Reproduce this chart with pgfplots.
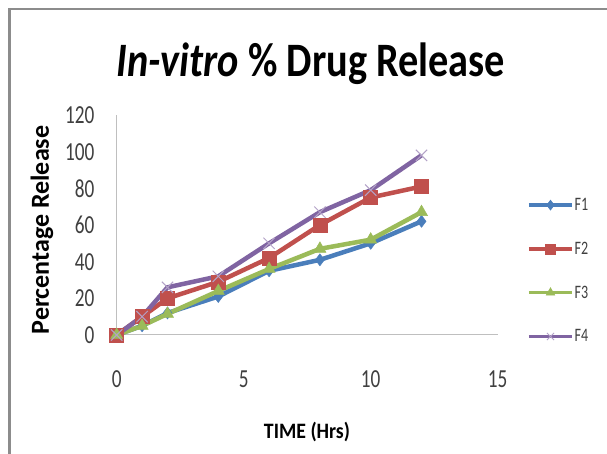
\documentclass[border=0pt]{standalone}
\usepackage{fontspec}
\setmainfont{Carlito}
\newfontfamily\cond[FakeStretch=0.74]{Carlito}
\newfontfamily\condt[FakeStretch=0.84]{Carlito}
\newfontfamily\condx[FakeStretch=0.9]{Carlito}
\usepackage{pgfplots}
\pgfplotsset{compat=1.18}
\definecolor{cF1}{HTML}{4A7EBB}
\definecolor{cF2}{HTML}{C0504D}
\definecolor{cF3}{HTML}{9BBB59}
\definecolor{cF4}{HTML}{8064A2}
\definecolor{tickc}{HTML}{404040}
\definecolor{framec}{HTML}{8C8C8C}
\begin{document}
\begin{tikzpicture}[x=1pt,y=1pt]
\useasboundingbox (0,0) rectangle (607,454);
\fill[white] (0,0) rectangle (607,454);
\draw[framec, line width=2.5pt] (9.5,-10) -- (9.5,445) -- (620,445);
\node[anchor=base, inner sep=0pt] at (311,377) {\condt\fontsize{48}{48}\selectfont\bfseries\textit{In-vitro} \% Drug Release};
\node[anchor=center, inner sep=0pt] at (307,22) {\condx\fontsize{22}{22}\selectfont\bfseries TIME (Hrs)};
\node[anchor=center, inner sep=0pt, rotate=90] at (42,224) {\fontsize{26}{26}\selectfont\bfseries Percentage Release};
\begin{axis}[
  at={(116.7pt,119pt)}, anchor=south west,
  scale only axis, width=381pt, height=220pt,
  xmin=0, xmax=15, ymin=0, ymax=120,
  xtick={0,5,10,15}, ytick={0,20,...,120},
  axis lines=left,
  axis line style={-, draw=gray!50, line width=1pt},
  tick style={draw=none},
  clip=false,
  /pgf/number format/assume math mode=true,
  ticklabel style={font=\cond\fontsize{26}{26}\selectfont, text=tickc, inner sep=0pt},
  xticklabel style={anchor=base, yshift=-50pt},
  yticklabel style={anchor=east, xshift=-20pt},
  legend style={at={(1.077,0.627)}, anchor=north west, draw=none, fill=none,
    font=\cond\fontsize{19}{19}\selectfont, row sep=28pt, inner sep=0pt,
    nodes={inner sep=1pt, text=tickc}},
  legend cell align=left,
  legend image code/.code={%
    \draw[mark repeat=2,mark phase=2,#1,line width=3.5pt, mark size=5pt] plot coordinates {(0pt,0pt) (21.5pt,0pt) (43pt,0pt)};},
]
\addplot[cF1, line width=4.5pt, mark=diamond*, mark size=6pt, mark options={solid, line width=0.5pt}]
  coordinates {(0,0) (1,5) (2,12) (4,21) (6,35) (8,41) (10,50) (12,62)};
\addlegendentry{F1}
\addplot[cF2, line width=4.5pt, mark=square*, mark size=7pt, mark options={solid, line width=0.5pt}]
  coordinates {(0,0) (1,10) (2,20) (4,29) (6,42) (8,60) (10,75) (12,81)};
\addlegendentry{F2}
\addplot[cF3, line width=4.5pt, mark=triangle*, mark size=7pt, mark options={solid, line width=0.5pt}]
  coordinates {(0,0) (1,5) (2,11.5) (4,24) (6,36) (8,47) (10,52) (12,67)};
\addlegendentry{F3}
\addplot[cF4, line width=4.5pt, mark=x, mark size=8pt, mark options={solid, line width=1pt, draw=cF4!60}]
  coordinates {(0,0) (1,10) (2,26) (4,32) (6,50) (8,67) (10,79) (12,98)};
\addlegendentry{F4}
\end{axis}
\end{tikzpicture}
\end{document}
